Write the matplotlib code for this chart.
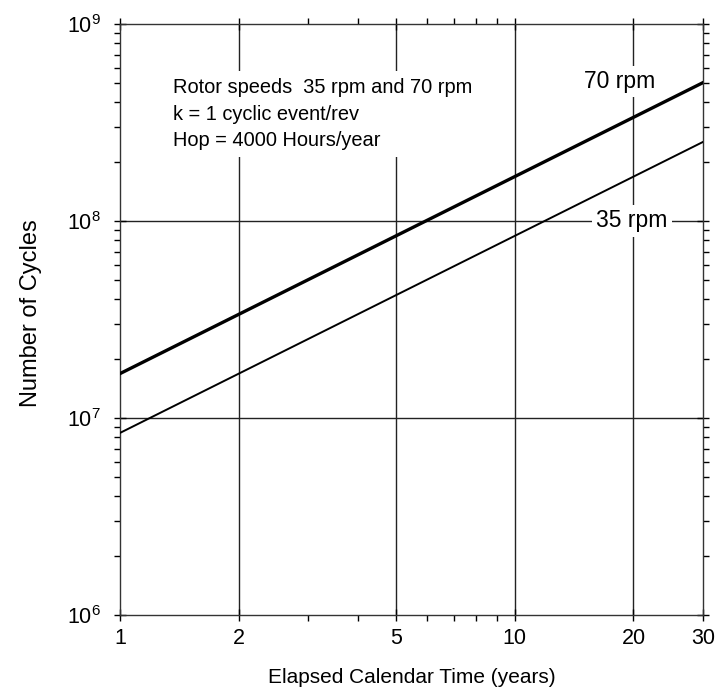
import numpy as np
import matplotlib
matplotlib.use('Agg')
import matplotlib.pyplot as plt
from matplotlib.ticker import LogLocator, FixedLocator, FixedFormatter, NullFormatter

plt.rcParams['font.family'] = ['Liberation Sans', 'DejaVu Sans']
plt.rcParams['mathtext.fontset'] = 'custom'
plt.rcParams['mathtext.rm'] = 'Liberation Sans'
plt.rcParams['mathtext.it'] = 'Liberation Sans'

# operating assumptions
rpm_speeds = [35, 70]
k_events = 1
hours_per_year = 4000
years = [1, 30]

x_ticks = [1, 2, 5, 10, 20, 30]
x_minor = [3, 4, 6, 7, 8, 9]
x_grid = [2, 5, 10, 20]
y_grid = [1e7, 1e8]

fig = plt.figure(figsize=(7.15, 6.89), dpi=100)
ax = fig.add_axes([120/715, 1 - 615/689, 583/715, 591/689])

ax.set_xscale('log')
ax.set_yscale('log')
ax.set_xlim(1, 30)
ax.set_ylim(1e6, 1e9)

for xv in x_grid:
    ax.axvline(xv, color='#222222', lw=1.0, zorder=1)
for yv in y_grid:
    ax.axhline(yv, color='#222222', lw=1.0, zorder=1)

t = np.array(years, dtype=float)
for rpm, lw in zip(rpm_speeds, [1.4, 2.4]):
    cycles = k_events * rpm * 60 * hours_per_year * t
    ax.plot(t, cycles, color='black', lw=lw, zorder=3)

box = dict(facecolor='white', edgecolor='none', pad=3)
ax.text(1.36, 5.3e8, 'Rotor speeds  35 rpm and 70 rpm\nk = 1 cyclic event/rev\nHop = 4000 Hours/year',
        fontsize=14.4, va='top', ha='left', linespacing=1.5,
        bbox=dict(facecolor='white', edgecolor='none', pad=5), zorder=4)
ax.text(18.4, 5.1e8, '70 rpm', fontsize=16.5, ha='center', va='center', bbox=box, zorder=4)
ax.text(19.8, 1.0e8, '35 rpm', fontsize=16.5, ha='center', va='center', bbox=box, zorder=4)

ax.xaxis.set_major_locator(FixedLocator(x_ticks))
ax.xaxis.set_major_formatter(FixedFormatter([str(v) for v in x_ticks]))
ax.xaxis.set_minor_locator(FixedLocator(x_minor))
ax.xaxis.set_minor_formatter(NullFormatter())
ax.yaxis.set_major_locator(LogLocator(base=10, numticks=10))
ax.yaxis.set_minor_locator(LogLocator(base=10, subs=np.arange(2, 10), numticks=10))
ax.yaxis.set_minor_formatter(NullFormatter())

ax.tick_params(which='major', direction='inout', length=8, width=1.0, labelsize=15.5, color='black')
ax.tick_params(axis='x', which='major', pad=5)
ax.tick_params(axis='y', which='major', pad=10)
ax.tick_params(which='minor', direction='out', length=4, width=1.0, color='black')
ax.tick_params(which='both', top=True, right=True)
ax.tick_params(which='both', labeltop=False, labelright=False)

for s in ax.spines.values():
    s.set_linewidth(1.0)
    s.set_color('#333333')

ax.set_xlabel('Elapsed Calendar Time (years)', fontsize=15, labelpad=14)
ax.set_ylabel('Number of Cycles', fontsize=17, labelpad=18)
ax.yaxis.label.set_position((0, (615 - 313) / 591))

fig.savefig('out.png', dpi=100)
